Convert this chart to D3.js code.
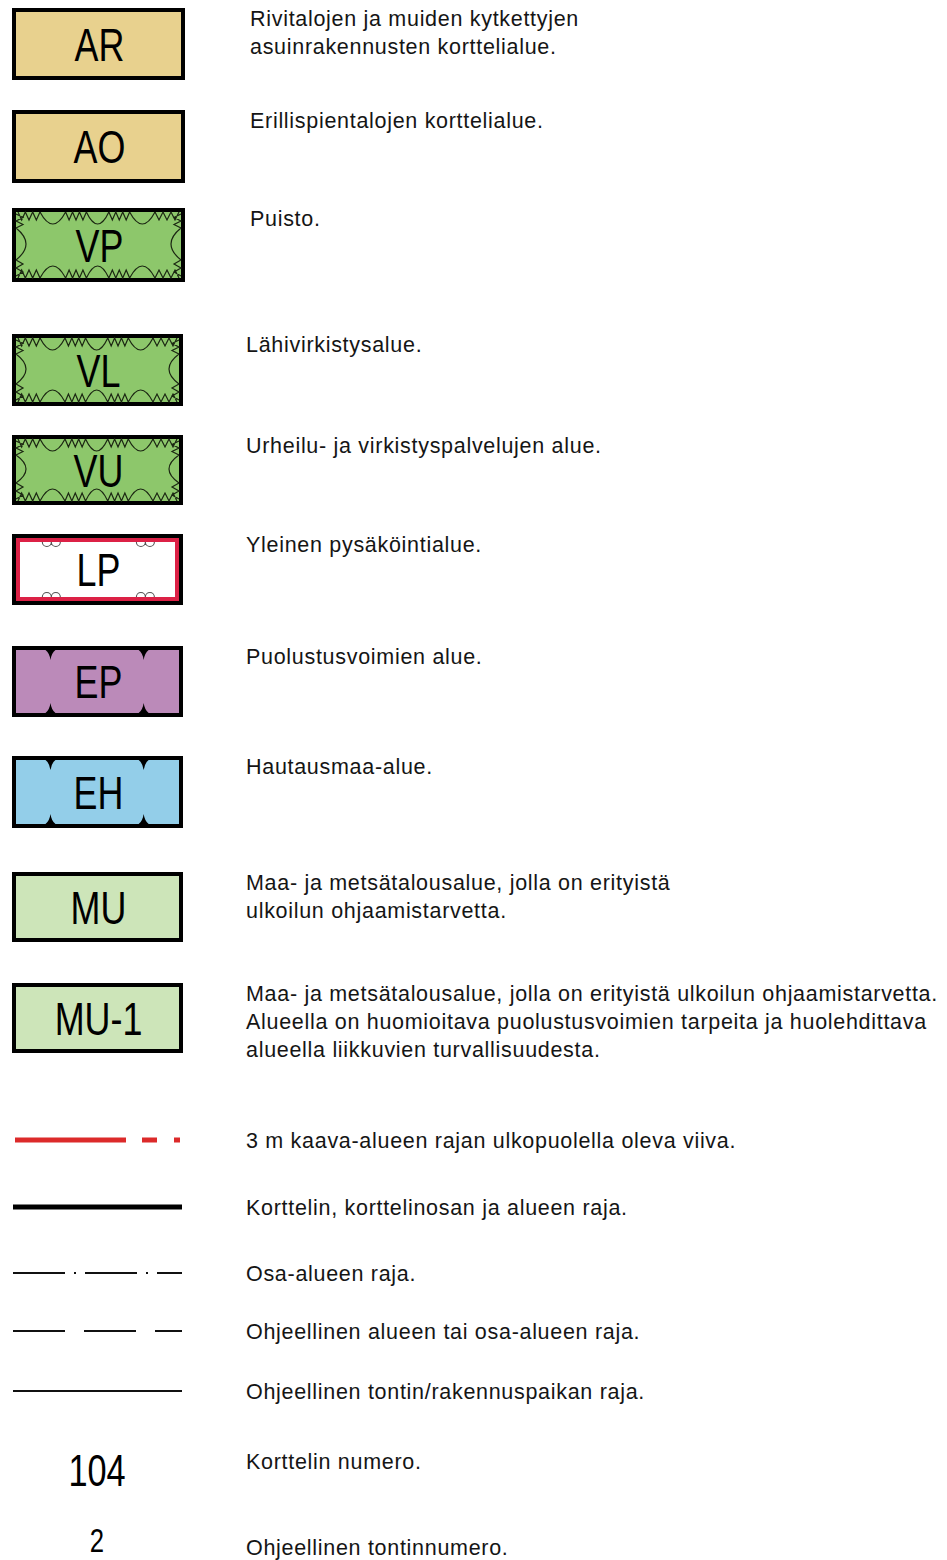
<!DOCTYPE html>
<html><head><meta charset="utf-8">
<script src="https://cdn.jsdelivr.net/npm/d3@7"></script>
<style>body{margin:0;background:#fff}svg{display:block}</style>
</head><body><svg id="c" width="947" height="1560"></svg>
<script>
// ---- data ----
const areaCodes = ["AR","AO","VP","VL","VU","LP","EP","EH","MU","MU-1"];
const areaKinds = ["plain","plain","green","green","green","parking","notch","notch","plain","plain"];
const areaTexts = [
  ["Rivitalojen ja muiden kytkettyjen","asuinrakennusten korttelialue."],
  ["Erillispientalojen korttelialue."],
  ["Puisto."],
  ["Lähivirkistysalue."],
  ["Urheilu- ja virkistyspalvelujen alue."],
  ["Yleinen pysäköintialue."],
  ["Puolustusvoimien alue."],
  ["Hautausmaa-alue."],
  ["Maa- ja metsätalousalue, jolla on erityistä","ulkoilun ohjaamistarvetta."],
  ["Maa- ja metsätalousalue, jolla on erityistä ulkoilun ohjaamistarvetta.","Alueella on huomioitava puolustusvoimien tarpeita ja  huolehdittava","alueella liikkuvien turvallisuudesta."]
];
const lineKeys = ["outside","block","subarea","guideArea","guidePlot"];
const lineTexts = [
  "3 m kaava-alueen rajan ulkopuolella oleva viiva.",
  "Korttelin, korttelinosan ja alueen raja.",
  "Osa-alueen raja.",
  "Ohjeellinen alueen tai osa-alueen raja.",
  "Ohjeellinen tontin/rakennuspaikan raja."
];
const numberLabels = ["104","2"];
const numberTexts = ["Korttelin numero.","Ohjeellinen tontinnumero."];

// ---- styles / layout ----
const fillOf = {AR:"#e8d18e",AO:"#e8d18e",VP:"#8dc76b",VL:"#8dc76b",VU:"#8dc76b",LP:"#ffffff",EP:"#bb8ab9",EH:"#93cee9",MU:"#cde5b9","MU-1":"#cde5b9"};
const lineStyle = {
  outside:{stroke:"#dc2a2a",w:5,dash:"111,16,15,17,6"},
  block:{stroke:"#000",w:5,dash:null},
  subarea:{stroke:"#111",w:2,dash:"52,9,2,9"},
  guideArea:{stroke:"#111",w:2,dash:"52,19"},
  guidePlot:{stroke:"#111",w:2,dash:null}
};
const boxTop = d3.scaleOrdinal().domain(areaCodes).range([8,110,208,334,435,534,646,756,872,983]);
const boxRight = d3.scaleOrdinal().domain(areaCodes).range([185,185,185,183,183,183,183,183,183,183]);
const boxH = d3.scaleOrdinal().domain(areaCodes).range([72,73,74,72,70,71,71,72,70,70]);
const textX = d3.scaleOrdinal().domain(areaCodes).range([250,250,250,246,246,246,246,246,246,246]);
const lineY = d3.scaleOrdinal().domain(lineKeys).range([1140,1207,1273,1331,1391]);
const numY = d3.scaleOrdinal().domain(numberLabels).range([1486,1552]);
const numSize = d3.scaleOrdinal().domain(numberLabels).range([44,33]);
const numTextY = d3.scaleOrdinal().domain(numberLabels).range([1461,1547]);
const lineX = d3.scaleLinear().domain([0,1]).range([13,182]);

const svg = d3.select("#c");
const BODY = "'Liberation Sans', Arial, sans-serif";
const FS = 21.5, LS = 0.7;
const INK = "#151515";
const SQ = 0.78;
const x0 = 12;

const rows = areaCodes.map((c,i)=>({code:c,kind:areaKinds[i],text:areaTexts[i]}));
const g = svg.selectAll("g.area").data(rows).join("g").attr("class","area");

g.each(function(d){
  const sel = d3.select(this);
  const y = boxTop(d.code), w = boxRight(d.code)-x0, h = boxH(d.code);
  sel.append("rect").attr("x",x0).attr("y",y).attr("width",w).attr("height",h).attr("fill","#000");
  if(d.kind==="parking"){
    sel.append("rect").attr("x",x0+4).attr("y",y+4).attr("width",w-8).attr("height",h-8).attr("fill","#dc2146");
    sel.append("rect").attr("x",x0+8).attr("y",y+8).attr("width",w-16).attr("height",h-16).attr("fill","#fff");
    [x0+w*0.23, x0+w*0.78].forEach(cx=>{
      [[y+8,false],[y+h-8,true]].forEach(([cy,up])=>{
        const p=d3.path();
        for(const dx of [-4.5,4.5]){
          p.moveTo(cx+dx+4.5,cy); p.arc(cx+dx,cy,4.5,0,Math.PI,up);
        }
        sel.append("path").attr("d",p.toString()).attr("fill","none").attr("stroke","#555").attr("stroke-width",1.1);
      });
    });
  } else {
    sel.append("rect").attr("x",x0+4).attr("y",y+4).attr("width",w-8).attr("height",h-8).attr("fill",fillOf[d.code]);
  }
  const ix0=x0+4, ix1=x0+w-4, iy0=y+4, iy1=y+h-4;
  if(d.kind==="notch"){
    [0.225,0.77].forEach(f=>{
      const cx = x0+w*f;
      [[iy0,1],[iy1,-1]].forEach(([ey,s])=>{
        const p=d3.path();
        p.moveTo(cx-5,ey); p.quadraticCurveTo(cx-1,ey+s*3,cx,ey+s*10); p.quadraticCurveTo(cx+1,ey+s*3,cx+5,ey); p.closePath();
        sel.append("path").attr("d",p.toString()).attr("fill","#000");
      });
    });
  }
  if(d.kind==="green"){
    const p=d3.path();
    const teeth=(xa,ya,xb,yb,nx,ny,n,amp)=>{
      p.moveTo(xa,ya);
      for(let k=1;k<=n*2;k++){
        const t=k/(n*2), px=xa+(xb-xa)*t, py=ya+(yb-ya)*t;
        const a = (k%2===1)?amp:0;
        p.lineTo(px+nx*a,py+ny*a);
      }
    };
    const cl=[[ix0+2,ix0+24],[x0+w*0.31,x0+w*0.43],[x0+w*0.56,x0+w*0.68],[ix1-26,ix1-2]];
    [[iy0,1],[iy1,-1]].forEach(([ey,s])=>{
      cl.forEach(([a,b],k)=>{
        teeth(a,ey,b,ey,0,s,3,8);
        if(k<cl.length-1){
          const na=cl[k+1][0], mid=(b+na)/2;
          p.moveTo(b,ey); p.quadraticCurveTo(mid,ey+s*24,na,ey);
        }
      });
    });
    [[ix0,1],[ix1,-1]].forEach(([ex,s])=>{
      teeth(ex,iy0+2,ex,iy0+16,s,0,2,7);
      teeth(ex,iy1-18,ex,iy1-2,s,0,2,7);
      p.moveTo(ex,iy0+16); p.quadraticCurveTo(ex+s*20,(iy0+iy1)/2-1,ex,iy1-18);
    });
    sel.append("path").attr("d",p.toString()).attr("fill","none").attr("stroke","#1b2612").attr("stroke-width",1.2);
  }
  sel.append("text").attr("transform",`translate(${x0+w/2+1},${y+h/2+16.5}) scale(${SQ},1)`).attr("text-anchor","middle")
    .attr("font-family",BODY).attr("font-size",46).attr("fill","#000").text(d.code);
  sel.append("text").attr("font-family",BODY).attr("font-size",FS).attr("letter-spacing",LS).attr("fill",INK)
    .selectAll("tspan").data(d.text).join("tspan")
    .attr("x",textX(d.code)).attr("y",(t,i)=>y+18+i*28).text(t=>t);
});

const lrows = lineKeys.map((k,i)=>({key:k,text:lineTexts[i]}));
const lg = svg.selectAll("g.line").data(lrows).join("g").attr("class","line");
lg.append("line").attr("x1",d=>lineX(0)+(d.key==="outside"?2:0)).attr("x2",d=>lineX(1)-(d.key==="outside"?2:0))
  .attr("y1",d=>lineY(d.key)).attr("y2",d=>lineY(d.key))
  .attr("stroke",d=>lineStyle[d.key].stroke).attr("stroke-width",d=>lineStyle[d.key].w)
  .attr("stroke-dasharray",d=>lineStyle[d.key].dash);
lg.append("text").attr("x",246).attr("y",d=>lineY(d.key)+8).attr("font-family",BODY).attr("font-size",FS).attr("letter-spacing",LS).attr("fill",INK).text(d=>d.text);

const nrows = numberLabels.map((n,i)=>({n,text:numberTexts[i]}));
const ng = svg.selectAll("g.num").data(nrows).join("g").attr("class","num");
ng.append("text").attr("transform",d=>`translate(97,${numY(d.n)}) scale(${SQ},1)`).attr("text-anchor","middle").attr("font-family",BODY)
  .attr("font-size",d=>numSize(d.n)).attr("fill","#000").text(d=>d.n);
ng.append("text").attr("x",246).attr("y",d=>numTextY(d.n)+8).attr("font-family",BODY).attr("font-size",FS).attr("letter-spacing",LS).attr("fill",INK).text(d=>d.text);
</script></body></html>
